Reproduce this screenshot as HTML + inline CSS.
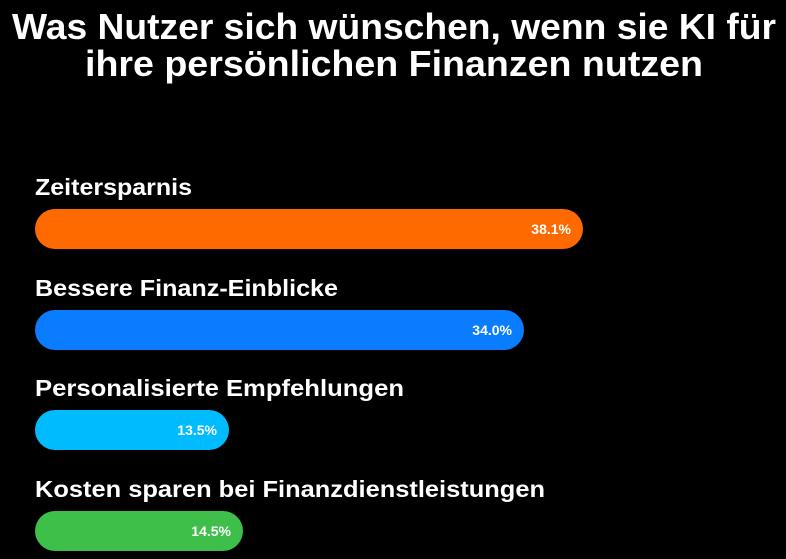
<!DOCTYPE html>
<html><head><meta charset="utf-8"><style>
html,body{margin:0;padding:0;background:#000;width:786px;height:559px;overflow:hidden}
svg{display:block}
text{font-family:"Liberation Sans",sans-serif;font-weight:bold;fill:#fff}
</style></head><body>
<svg width="786" height="559" viewBox="0 0 786 559">
<rect width="786" height="559" fill="#000"/>
<text x="394" y="39" font-size="36" text-anchor="middle" textLength="764" lengthAdjust="spacingAndGlyphs">Was Nutzer sich wünschen, wenn sie KI für</text>
<text x="394" y="76" font-size="36" text-anchor="middle" textLength="618" lengthAdjust="spacingAndGlyphs">ihre persönlichen Finanzen nutzen</text>

<text x="35" y="195" font-size="23" textLength="157" lengthAdjust="spacingAndGlyphs">Zeitersparnis</text>
<rect x="35" y="209" width="548" height="40" rx="20" fill="#ff6a00"/>
<text x="571" y="234" font-size="14" text-anchor="end">38.1%</text>

<text x="35" y="296" font-size="23" textLength="303" lengthAdjust="spacingAndGlyphs">Bessere Finanz-Einblicke</text>
<rect x="35" y="310" width="489" height="40" rx="20" fill="#0a7cff"/>
<text x="512" y="335" font-size="14" text-anchor="end">34.0%</text>

<text x="35" y="396" font-size="23" textLength="369" lengthAdjust="spacingAndGlyphs">Personalisierte Empfehlungen</text>
<rect x="35" y="410" width="194" height="40" rx="20" fill="#00bcff"/>
<text x="217" y="435" font-size="14" text-anchor="end">13.5%</text>

<text x="35" y="497" font-size="23" textLength="510" lengthAdjust="spacingAndGlyphs">Kosten sparen bei Finanzdienstleistungen</text>
<rect x="35" y="511" width="208" height="40" rx="20" fill="#3dbf4a"/>
<text x="231" y="536" font-size="14" text-anchor="end">14.5%</text>
</svg>
</body></html>
